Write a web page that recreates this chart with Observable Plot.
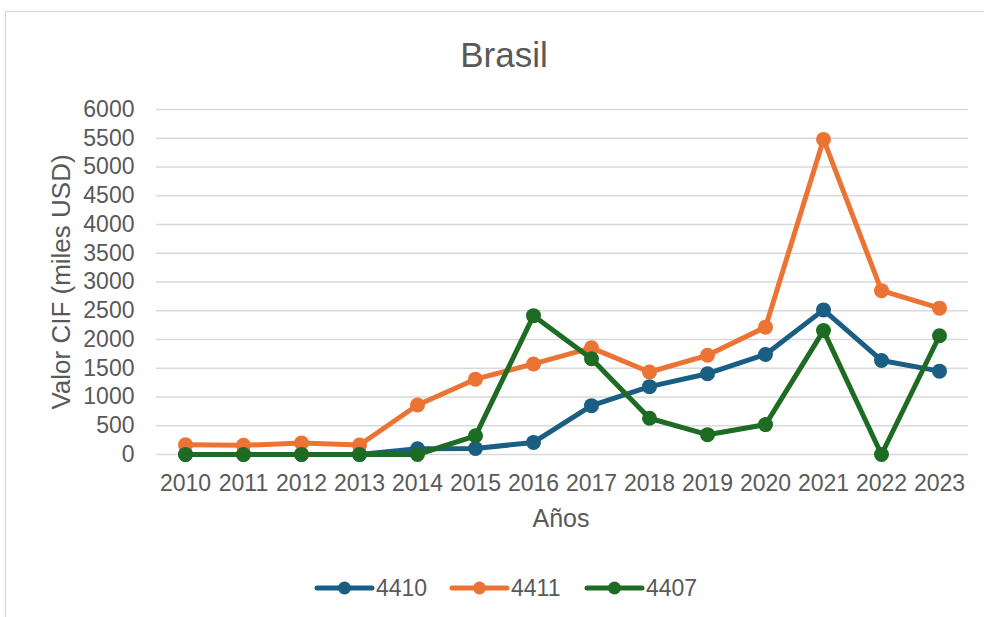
<!DOCTYPE html>
<html><head><meta charset="utf-8">
<script src="https://cdn.jsdelivr.net/npm/d3@7"></script>
<script src="https://cdn.jsdelivr.net/npm/@observablehq/plot@0.6"></script>
<style>body{margin:0;background:#fff;overflow:hidden} #chart{position:absolute;left:0;top:0}</style>
</head><body><div id="chart"></div>
<script>
const years = ["2010","2011","2012","2013","2014","2015","2016","2017","2018","2019","2020","2021","2022","2023"];
const seriesNames = ["4410","4411","4407"];
const seriesColors = ["#1b5e83","#eb7434","#1e6b24"];
const v4410 = [0,0,0,0,100,105,210,850,1180,1405,1740,2515,1635,1450];
const v4411 = [170,160,200,165,860,1310,1575,1855,1435,1725,2215,5480,2850,2545];
const v4407 = [0,0,0,0,0,325,2415,1665,630,345,520,2155,0,2065];
const yTicks = d3.range(0, 6001, 500);
const titleText = "Brasil";
const yLabel = "Valor CIF (miles USD)";
const xLabel = "Años";

const valuesBySeries = [v4410, v4411, v4407];
const data = [];
seriesNames.forEach((s, i) => years.forEach((y, j) => data.push({series: s, year: y, value: valuesBySeries[i][j]})));

const W = 984, H = 617;
const font = "'Liberation Sans', Arial, sans-serif";
const textColor = "#595959";

const seriesMarks = seriesNames.flatMap(s => {
  const d = data.filter(r => r.series === s);
  return [
    Plot.line(d, {x: "year", y: "value", stroke: "series", strokeWidth: 5, strokeLinecap: "round", strokeLinejoin: "round"}),
    Plot.dot(d, {x: "year", y: "value", fill: "series", r: 7.5})
  ];
});

const chart = Plot.plot({
  width: W, height: H,
  marginLeft: 156, marginRight: 16, marginTop: 109, marginBottom: 163,
  style: {fontFamily: font, color: textColor, background: "white", overflow: "visible"},
  x: {type: "point", domain: years, padding: 0.5},
  y: {domain: [0, 6000]},
  color: {domain: seriesNames, range: seriesColors},
  marks: [
    Plot.gridY(yTicks, {stroke: "#d9d9d9", strokeOpacity: 1, strokeWidth: 1.5}),
    Plot.axisY(yTicks, {tickSize: 0, tickPadding: 22, fontSize: 23, label: null, tickFormat: d3.format("d")}),
    Plot.axisX({tickSize: 0, tickPadding: 20, fontSize: 23, label: null}),
    ...seriesMarks
  ]
});

const svg = d3.select(chart);
// outer chart border
svg.insert("rect", ":first-child")
  .attr("x", 5.5).attr("y", 11.5).attr("width", 1000).attr("height", 700)
  .attr("fill", "none").attr("stroke", "#d9d9d9").attr("stroke-width", 1.2);

svg.append("text").text(titleText)
  .attr("x", 504).attr("y", 67).attr("text-anchor", "middle")
  .attr("font-size", 35).attr("fill", textColor).attr("font-family", font);

svg.append("text").text(xLabel)
  .attr("x", 561).attr("y", 527).attr("text-anchor", "middle")
  .attr("font-size", 25).attr("fill", textColor).attr("font-family", font);

svg.append("text").text(yLabel)
  .attr("transform", "translate(70,282) rotate(-90)").attr("text-anchor", "middle")
  .attr("font-size", 26).attr("fill", textColor).attr("font-family", font);

// legend
const lg = svg.append("g");
seriesNames.forEach((s, i) => {
  const x0 = 317 + i * 135, y0 = 588;
  const g = lg.append("g");
  g.append("line").attr("x1", x0).attr("x2", x0 + 55).attr("y1", y0).attr("y2", y0)
    .attr("stroke", seriesColors[i]).attr("stroke-width", 5).attr("stroke-linecap", "round");
  g.append("circle").attr("cx", x0 + 27.5).attr("cy", y0).attr("r", 6.5).attr("fill", seriesColors[i]);
  g.append("text").text(s).attr("x", x0 + 59).attr("y", y0).attr("dy", "0.35em")
    .attr("text-anchor", "start")
    .attr("font-size", 23).attr("fill", textColor).attr("font-family", font);
});

document.getElementById("chart").appendChild(chart);
</script>
</body></html>
